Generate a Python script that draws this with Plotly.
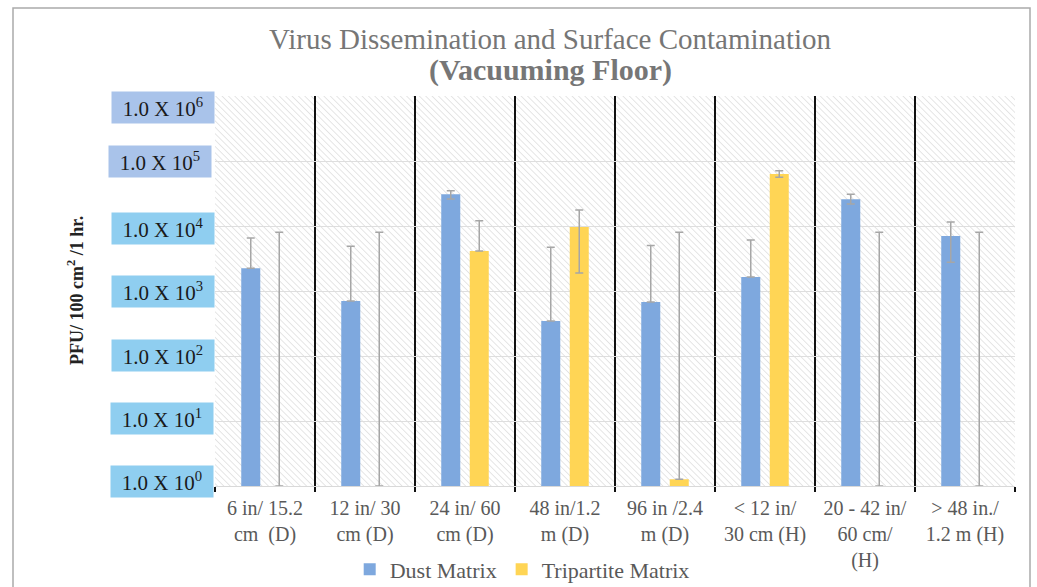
import base64
import plotly.graph_objects as go

categories = ["6 in/ 15.2<br>cm  (D)", "12 in/ 30<br>cm (D)", "24 in/ 60<br>cm (D)",
              "48 in/1.2<br>m (D)", "96 in /2.4<br>m (D)", "< 12 in/<br>30 cm (H)",
              "20 - 42 in/<br>60 cm/<br>(H)", "> 48 in./<br>1.2 m (H)"]

dust_values = [2240, 700, 30800, 345, 676, 1640, 25800, 7020]
dust_err_high = [6530, 4900, 34900, 4700, 5030, 6090, 30800, 11500]
dust_err_low = [2240, 700, 26000, 345, 676, 1640, 21800, 2760]

tri_values = [1, 1, 4120, 9660, 1.27, 63100, 1, 1]
tri_err_high = [8000, 8000, 12000, 17600, 8000, 70900, 8000, 8000]
tri_err_low = [1, 1, 4120, 1890, 1.27, 56100, 1, 1]

tick_exponents = [6, 5, 4, 3, 2, 1, 0]
tick_labels = ["1.0 X 10<sup>%d</sup>" % e for e in tick_exponents]

SERIF = "Liberation Serif, Times New Roman, serif"

fig = go.Figure()
fig.add_trace(go.Bar(
    name="Dust Matrix", x=categories, y=dust_values,
    marker=dict(color="#7EA8DE", line=dict(width=0)),
    error_y=dict(type="data", symmetric=False,
                 array=[h - v for h, v in zip(dust_err_high, dust_values)],
                 arrayminus=[v - l for l, v in zip(dust_err_low, dust_values)],
                 color="#A6A6A6", thickness=1.5, width=4),
))
fig.add_trace(go.Bar(
    name="Tripartite Matrix", x=categories, y=tri_values,
    marker=dict(color="#FFD555", line=dict(width=0)),
    error_y=dict(type="data", symmetric=False,
                 array=[h - v for h, v in zip(tri_err_high, tri_values)],
                 arrayminus=[v - l for l, v in zip(tri_err_low, tri_values)],
                 color="#A6A6A6", thickness=1.5, width=4),
))

# hatched plot background
svg = ('<svg xmlns="http://www.w3.org/2000/svg" width="800" height="390">'
       '<defs><pattern id="p" width="4.5" height="4.5" patternUnits="userSpaceOnUse" '
       'patternTransform="rotate(-45)">'
       '<rect width="4.5" height="4.5" fill="#ffffff"/>'
       '<line x1="0" y1="0" x2="0" y2="4.5" stroke="#d8d8d8" stroke-width="1.3"/>'
       '</pattern></defs><rect width="800" height="390" fill="url(#p)"/></svg>')
img_src = "data:image/svg+xml;base64," + base64.b64encode(svg.encode()).decode()

annotations = []
box_colors = ["#A9C3EA", "#A9C3EA", "#8FCEF0", "#8FCEF0", "#8FCEF0", "#8FCEF0", "#8FCEF0"]
box_yshift = [-11, 0, -2, 0, 1, 3, 5]
box_x = [-0.065, -0.069, -0.065, -0.065, -0.065, -0.066, -0.066]
for e, lab, c, ys, bx in zip(tick_exponents, tick_labels, box_colors, box_yshift, box_x):
    annotations.append(dict(
        x=bx, xref="paper", y=e, yref="y", text=lab, showarrow=False,
        xanchor="center", yanchor="middle", yshift=ys,
        font=dict(family=SERIF, size=21, color="#1a1a1a"),
        bgcolor=c, width=98, height=27, borderpad=2,
    ))

annotations += [
    dict(x=0.419, y=1.145, xref="paper", yref="paper", showarrow=False,
         text="Virus Dissemination and Surface Contamination",
         font=dict(family=SERIF, size=29, color="#767676"), xanchor="center", yanchor="middle"),
    dict(x=0.419, y=1.066, xref="paper", yref="paper", showarrow=False,
         text="<b>(Vacuuming Floor)</b>",
         font=dict(family=SERIF, size=30, color="#767676"), xanchor="center", yanchor="middle"),
    dict(x=-0.175, y=0.5, xref="paper", yref="paper", showarrow=False, textangle=-90,
         text="<b>PFU/ 100 cm<sup>2</sup> /1 hr.</b>",
         font=dict(family=SERIF, size=18, color="#222222"), xanchor="center", yanchor="middle"),
]

fig.update_layout(
    width=1037, height=587,
    margin=dict(l=215, r=22, t=96, b=101, autoexpand=False),
    paper_bgcolor="white", plot_bgcolor="rgba(0,0,0,0)",
    barmode="group", bargap=0.43, bargroupgap=0.333,
    showlegend=True,
    legend=dict(orientation="h", x=0.384, y=0.030, xref="paper", yref="container",
                xanchor="center", yanchor="middle",
                font=dict(family=SERIF, size=22, color="#595959"), traceorder="normal"),
    images=[dict(source=img_src, xref="paper", yref="paper", x=0, y=1, sizex=1, sizey=1,
                 sizing="stretch", layer="below", xanchor="left", yanchor="top")],
    annotations=annotations,
    shapes=[dict(type="rect", xref="paper", yref="paper", x0=-0.2525, x1=1.01875,
                 y0=-0.4, y1=1.2256, line=dict(color="#AAAAAA", width=1.5),
                 fillcolor="rgba(0,0,0,0)", layer="below")],
)
fig.update_xaxes(
    type="category", tickson="boundaries", showgrid=True, gridcolor="#111111", gridwidth=2,
    ticks="outside", ticklen=5, tickcolor="#111111", tickwidth=2,
    showline=True, linecolor="#D9D9D9", linewidth=1, automargin=False,
    tickfont=dict(family=SERIF, size=20, color="#595959"), ticklabelstandoff=4,
    range=[-0.5, 7.5],
)
fig.update_yaxes(
    type="log", range=[0, 6], showticklabels=False, showgrid=True, gridcolor="#DEDEDE",
    gridwidth=1, zeroline=False, ticks="", dtick=1, automargin=False,
)

fig.write_html("out.html")
